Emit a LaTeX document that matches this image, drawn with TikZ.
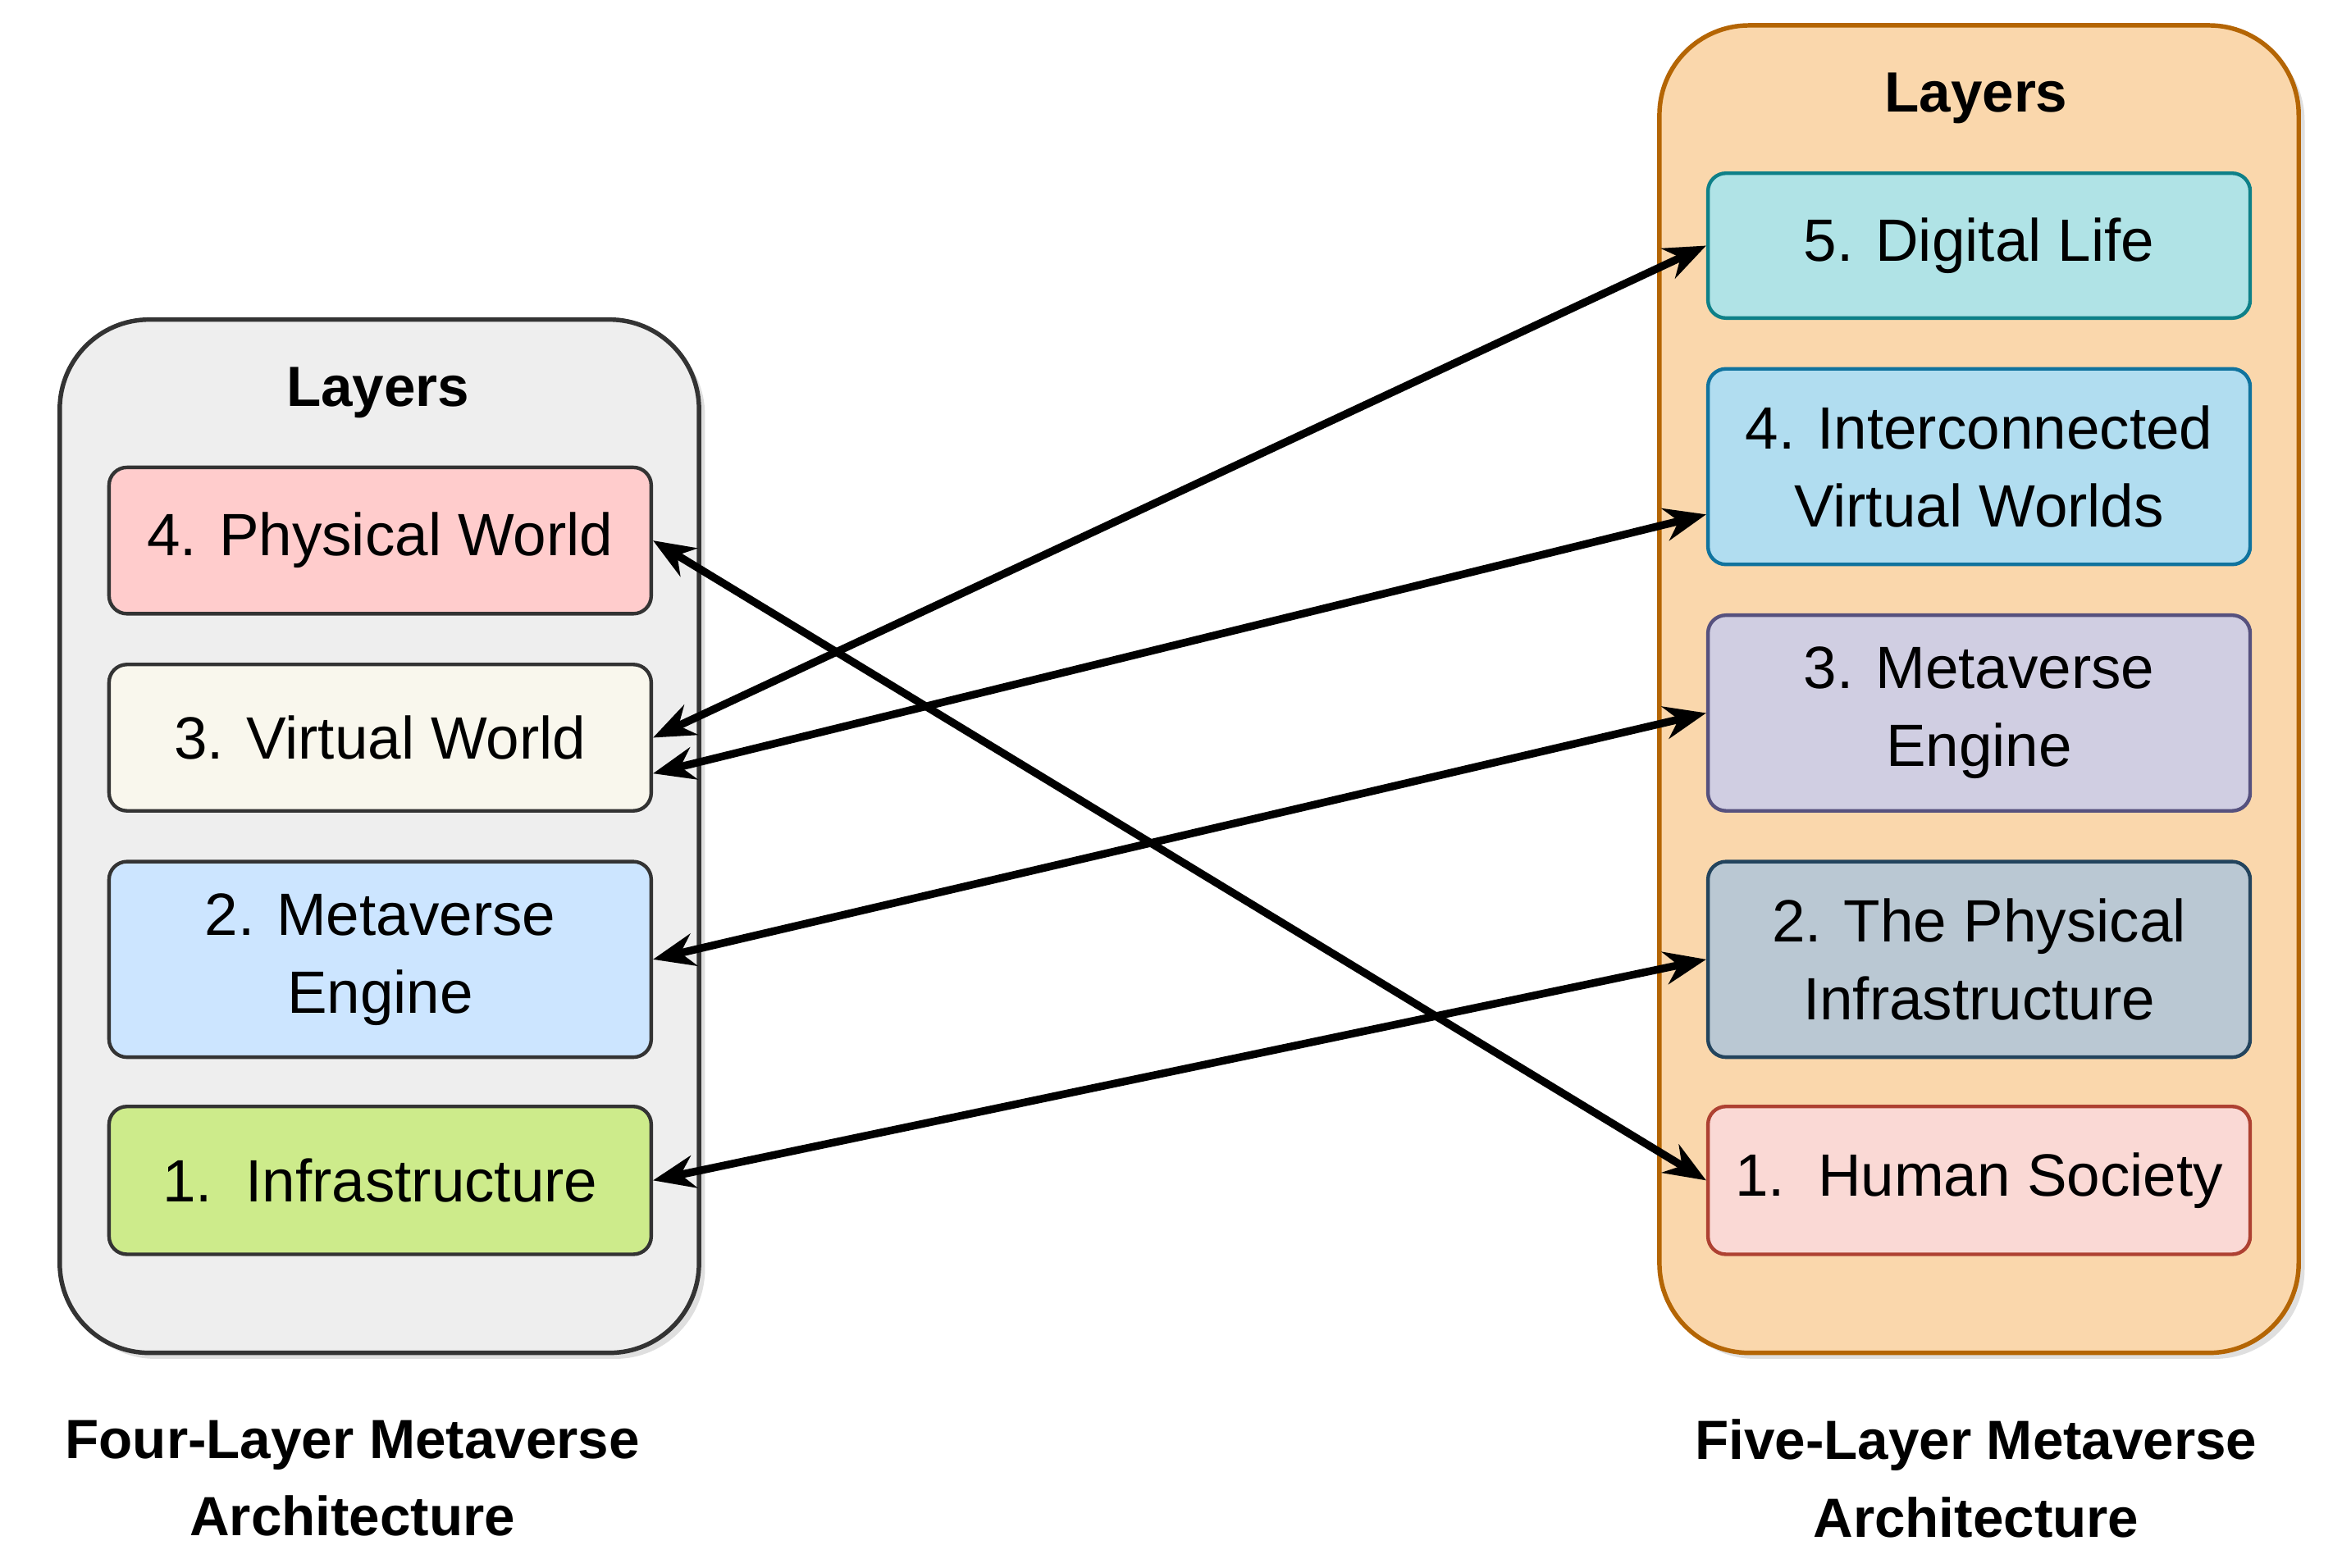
\documentclass[tikz,border=0pt]{standalone}
\usepackage{fontspec}
\setmainfont{Liberation Sans}
\usetikzlibrary{arrows.meta,shadows}
\begin{document}
\begin{tikzpicture}[x=0.5pt,y=-0.5pt,
  cont/.style={draw, line width=1.5pt, rounded corners=30pt, drop shadow={opacity=0.25,shadow xshift=2pt,shadow yshift=-2pt}},
  box/.style={draw, line width=1.2pt, rounded corners=6pt, minimum width=181.5pt, align=center, font=\fontsize{20}{26}\selectfont, inner sep=0pt},
  ttl/.style={font=\bfseries\fontsize{19}{23}\selectfont},
  captxt/.style={font=\bfseries\fontsize{18.5}{26}\selectfont, align=center},
  arr/.style={{Stealth[length=14pt,width=11pt]}-{Stealth[length=14pt,width=11pt]}, line width=2.6pt}]
\useasboundingbox (0,0) rectangle (1568,1050);
\definecolor{lg}{HTML}{EEEEEE}
\node[cont, fill=lg, draw=black!80, minimum width=214pt, minimum height=346pt] (L) at (254,560) {};
\node[cont, fill={rgb,255:red,250;green,215;blue,172}, draw={rgb,255:red,180;green,101;blue,4}, minimum width=214pt, minimum height=444.5pt] (R) at (1325,461.5) {};
\node[ttl] (lt) at (253,263) {Layers};
\node[ttl] (rt) at (1323,66) {Layers};
\node[box, fill={rgb,255:red,255;green,204;blue,204}, draw=black!80, minimum height=49pt] (pw) at (254.5,362) {4. Physical World};
\node[box, fill={rgb,255:red,249;green,247;blue,237}, draw=black!80, minimum height=49pt] (vw) at (254.5,494) {3. Virtual World};
\node[box, fill={rgb,255:red,204;green,229;blue,255}, draw=black!80, minimum height=65.5pt] (me) at (254.5,642.5) {2. Metaverse\\Engine};
\node[box, fill={rgb,255:red,205;green,235;blue,139}, draw=black!80, minimum height=49.5pt] (inf) at (254.5,790.5) {1.\ \ Infrastructure};
\node[box, fill={rgb,255:red,176;green,227;blue,230}, draw={rgb,255:red,14;green,128;blue,136}, minimum height=48.5pt] (dl) at (1325,164.5) {5. Digital Life};
\node[box, fill={rgb,255:red,177;green,221;blue,240}, draw={rgb,255:red,16;green,115;blue,158}, minimum height=65.5pt] (ivw) at (1325,312.5) {4. Interconnected\\Virtual Worlds};
\node[box, fill={rgb,255:red,208;green,206;blue,226}, draw={rgb,255:red,86;green,81;blue,126}, minimum height=65.5pt] (rme) at (1325,477.5) {3. Metaverse\\Engine};
\node[box, fill={rgb,255:red,186;green,200;blue,211}, draw={rgb,255:red,35;green,68;blue,93}, minimum height=65.5pt] (pi) at (1325,642.5) {2. The Physical\\Infrastructure};
\node[box, fill={rgb,255:red,250;green,217;blue,213}, draw={rgb,255:red,174;green,65;blue,50}, minimum height=49.5pt] (hs) at (1325,790.5) {1.\ \ Human Society};
\node[captxt] (lc) at (236,990) {Four-Layer Metaverse\\Architecture};
\node[captxt] (rc) at (1323,990) {Five-Layer Metaverse\\Architecture};
\draw[arr] (vw.east) -- (dl.west);
\draw[arr] ([yshift=-12pt]vw.east) -- ([yshift=-16pt]ivw.west);
\draw[arr] (me.east) -- (rme.west);
\draw[arr] (inf.east) -- (pi.west);
\draw[arr] (pw.east) -- (hs.west);
\end{tikzpicture}
\end{document}
